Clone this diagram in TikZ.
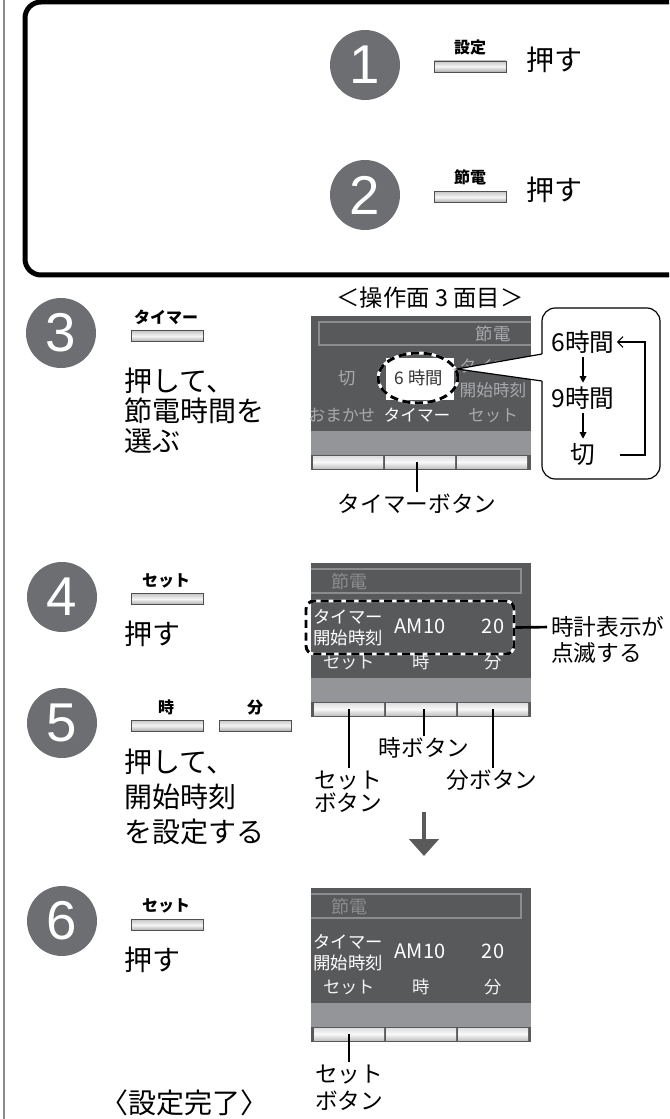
\documentclass[tikz,border=0pt]{standalone}
\usepackage{fontspec}
\setmainfont{Noto Sans CJK JP}
\newfontfamily\digitfont{Liberation Sans}
\usetikzlibrary{arrows.meta,shapes.geometric}
\definecolor{numgray}{HTML}{6D6E71}
\definecolor{panelgray}{HTML}{58595B}
\definecolor{bandgray}{HTML}{939598}
\definecolor{dimtext}{HTML}{A7A9AC}
\definecolor{framegray}{HTML}{8A8C8E}
\definecolor{keyedge}{HTML}{505050}
\definecolor{arrowgray}{HTML}{5A5A5A}
\newcommand{\fsz}[1]{\fontsize{#1}{#1}\selectfont}

\begin{document}
\begin{tikzpicture}[x=0.75pt, y=-0.75pt,
        num/.style={circle, fill=numgray, text=white, minimum size=52.5pt, inner sep=0pt, font=\digitfont\fsz{41}},
        key/.style={rectangle, draw=keyedge, line width=0.6pt, minimum width=54pt, minimum height=8.25pt, inner sep=0pt,
            top color=gray!45, bottom color=gray!65, middle color=gray!8},
        scrkey/.style={rectangle, minimum width=52.5pt, minimum height=9pt, inner sep=0pt,
            top color=gray!25, bottom color=gray!45, middle color=gray!5},
        txt/.style={inner sep=0pt, anchor=west, font=\fsz{21}, text height=18.5pt, text depth=2.5pt},
        keylbl/.style={inner sep=0pt, font=\bfseries\fsz{12}, text height=10.5pt, text depth=1.5pt},
        lbl/.style={inner sep=0pt, font=\fsz{17}, text height=15pt, text depth=2pt},
        pop/.style={inner sep=0pt, font=\fsz{18.5}, text height=16.3pt, text depth=2.2pt},
        scr/.style={inner sep=0pt, font=\fsz{12.5}, text height=11pt, text depth=1.5pt, text=dimtext},
        scrw/.style={inner sep=0pt, font=\fsz{13}, text height=11.4pt, text depth=1.6pt, text=white},
        ptr/.style={line width=1.5pt},
        dashline/.style={line width=2.2pt, dash pattern=on 6pt off 3.5pt, preaction={draw=white, solid, line width=2.2pt}},
        downarrow/.style={line width=0.9pt, -{Triangle[length=5pt, width=5pt]}, shorten <=2pt, shorten >=2pt},
        looparrow/.style={line width=0.9pt, -{Straight Barb[length=4pt, width=8pt]}},
        bigarrow/.style={line width=3pt, draw=arrowgray, -{Triangle[length=12.75pt, width=22pt]}}
    ]
        \useasboundingbox (0,0) rectangle (669,1119);
        \fill[white] (0,0) rectangle (669,1119);
        \clip (0,0) rectangle (669,1119);
        \draw[framegray, line width=1.2pt] (4,0) -- (4,1119);
        \draw[line width=3.75pt, rounded corners=12pt] (25,2) rectangle (720,275);

        \node[num] (n1) at (365,65) {1};
        \node[key] (k1) at (470,66.5) {};
        \node[keylbl] (k1l) at (470,48) {設定};
        \node[txt] (t1) at (526,60) {押す};

        \node[num] (n2) at (365,195) {2};
        \node[key] (k2) at (470,197) {};
        \node[keylbl] (k2l) at (470,178) {節電};
        \node[txt] (t2) at (526,190) {押す};

        \node[lbl, font=\fsz{17.5}] (hdr) at (430,298) {＜操作面 3 面目＞};

        \node[num] (n3) at (61,333) {3};
        \node[key] (k3) at (167,336) {};
        \node[keylbl] (k3l) at (166,318) {タイマー};
        \node[txt] (t3a) at (124,381) {押して、};
        \node[txt] (t3b) at (124,411) {節電時間を};
        \node[txt] (t3c) at (124,441) {選ぶ};

        \fill[panelgray] (311,316) rectangle (531,470);
        \fill[bandgray] (311,431) rectangle (531,455);
        \node[scrkey] (a1) at (348,462) {};
        \node[scrkey] (a2) at (420,462) {};
        \node[scrkey] (a3) at (492,462) {};
        \draw[framegray, line width=1.2pt] (531,322) -- (319,322) -- (319,345) -- (531,345);
        \node[scr, font=\fsz{13}] (s1title) at (493,334) {節電};
        \node[scr, font=\fsz{13}] (s1off) at (347,378) {切};
        \node[scr] (s1tim) at (493,366) {タイマー};
        \node[scr] (s1start) at (493,390) {開始時刻};
        \node[scr] (s1auto) at (342,415) {おまかせ};
        \node[scrw, font=\fsz{12.5}] (s1timer) at (417,415) {タイマー};
        \node[scr] (s1set) at (493,415) {セット};
        \fill[white] (386,358) rectangle (454,400);
        \node[ellipse, draw, dashline, minimum width=60pt, minimum height=37.5pt, inner sep=0pt] (sel) at (418,378) {};
        \node[scr, font=\fsz{13}, text=black!80] (six) at (419,378) {6 時間};

        \node[draw, line width=0.9pt, rounded corners=10pt, fill=white, minimum width=88.5pt, minimum height=128.25pt] (popup) at (601,393.5) {};
        \coordinate (w1) at (542,354);
        \coordinate (w2) at (542,381);
        \fill[white] (sel.13) -- ([xshift=1pt]w1) -- ([xshift=1pt]w2) -- cycle;
        \draw[line width=0.9pt] (w1) -- (sel.13) -- (w2);
        \node[pop] (h6) at (583,342) {6時間};
        \node[pop] (h9) at (583,398) {9時間};
        \node[pop] (hoff) at (583,454) {切};
        \draw[downarrow] (h6) -- (h9);
        \draw[downarrow] (h9) -- (hoff);
        \coordinate (loopc) at (645,455);
        \draw[looparrow] (hoff.east) ++(24,1) -- (loopc) |- ([xshift=1.5pt]h6.east);

        \node[lbl] (tbtn) at (417,504) {タイマーボタン};
        \draw[ptr] (tbtn.north) -- (tbtn.north |- a2.center);

        \node[num] (n4) at (62,597) {4};
        \node[key] (k4) at (167,599) {};
        \node[keylbl] (k4l) at (166,580) {セット};
        \node[txt] (t4) at (124,634) {押す};

        \node[num] (n5) at (62,723) {5};
        \node[key] (k5a) at (167,725.5) {};
        \node[key] (k5b) at (255,725.5) {};
        \node[keylbl] (k5al) at (166,707) {時};
        \node[keylbl] (k5bl) at (255,707) {分};
        \node[txt] (t5a) at (124,762) {押して、};
        \node[txt] (t5b) at (124,797) {開始時刻};
        \node[txt] (t5c) at (124,832) {を設定する};

        \foreach \T/\s in {563/b, 888/c} {
            \fill[panelgray] (311,\T) rectangle (531,\T+154);
            \fill[bandgray] (311,\T+115) rectangle (531,\T+139);
            \node[scrkey] (\s1) at (349,\T+146) {};
            \node[scrkey] (\s2) at (421,\T+146) {};
            \node[scrkey] (\s3) at (493,\T+146) {};
            \draw[framegray, line width=1.2pt] (311,\T+6) -- (521,\T+6) -- (521,\T+30) -- (311,\T+30);
            \node[scr, font=\fsz{13.5}, text=framegray] (\s title) at (349,\T+19) {節電};
            \node[scrw] (\s tim) at (348,\T+54) {タイマー};
            \node[scrw] (\s start) at (348,\T+75) {開始時刻};
            \node[scrw, font=\fsz{15}] (\s hour) at (420,\T+64) {AM10};
            \node[scrw, font=\fsz{15}] (\s min) at (493,\T+64) {20};
            \node[scrw, text=gray!10] (\s set) at (349,\T+99) {セット};
            \node[scrw, text=gray!10] (\s h) at (421,\T+99) {時};
            \node[scrw, text=gray!10] (\s m) at (493,\T+99) {分};
        }

        \node[rectangle, draw, dashline, rounded corners=6pt, minimum width=156pt, minimum height=39.75pt] (blink) at (410,627.5) {};
        \node[lbl, anchor=west] (clk1) at (551,627) {時計表示が};
        \node[lbl, anchor=west] (clk2) at (551,653) {点滅する};
        \draw[ptr, line width=2pt, shorten >=3pt] (blink.east) -- (clk1.west);

        \node[lbl] (bset1) at (348,780) {セット};
        \node[lbl] (bset2) at (348,803) {ボタン};
        \node[lbl] (bhour) at (424,748) {時ボタン};
        \node[lbl] (bmin) at (492,780) {分ボタン};
        \draw[ptr] (b1.center) -- (b1.center |- bset1.north);
        \draw[ptr] (bhour.north) -- (bhour.north |- b2.center);
        \draw[ptr] (b3.center) -- (b3.center |- bmin.north);

        \coordinate (flowtop) at (424,812);
        \coordinate (flowbot) at (424,856);
        \draw[bigarrow] (flowtop) -- (flowbot);

        \node[num] (n6) at (62,921) {6};
        \node[key] (k6) at (167,925) {};
        \node[keylbl] (k6l) at (166,905) {セット};
        \node[txt] (t6) at (124,960) {押す};

        \node[lbl] (cset1) at (349,1074) {セット};
        \node[lbl] (cset2) at (349,1101) {ボタン};
        \draw[ptr] (c1.center) -- (c1.center |- cset1.north);

        \node[txt] (done) at (100,1103) {〈設定完了〉};
    \end{tikzpicture}
\end{document}
